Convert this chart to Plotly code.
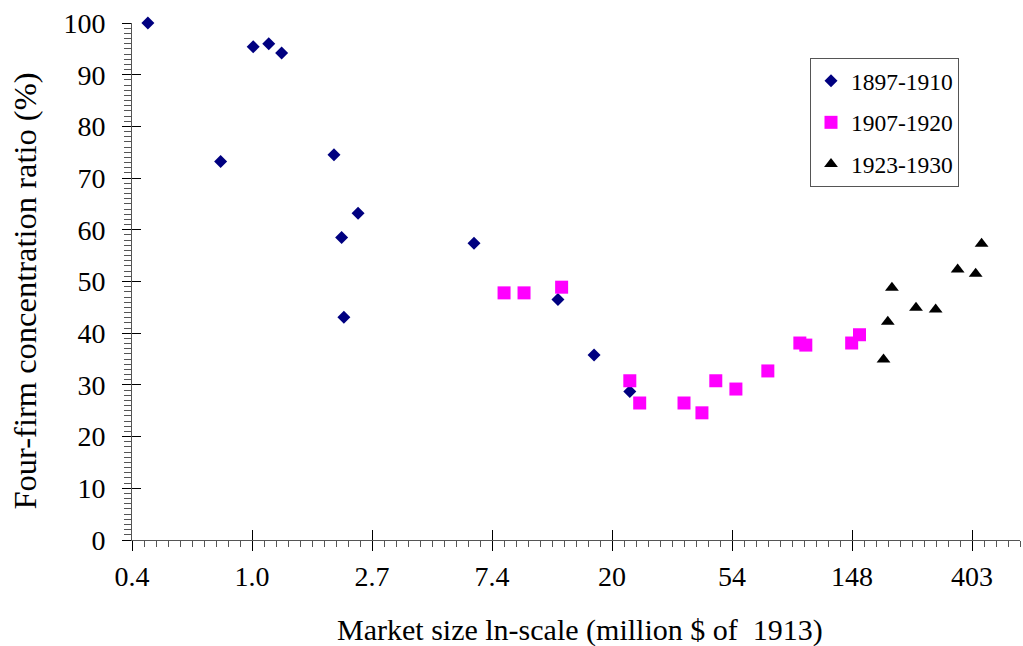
import numpy as np
import plotly.graph_objects as go

# Market size (million $ of 1913) and four-firm concentration ratio (%)
size_1897 = [0.42, 1.01, 1.15, 1.28, 0.77, 1.98, 2.42, 2.11, 2.15, 6.36, 12.8, 17.3, 23.3]
cr4_1897 = [100.0, 95.4, 96.0, 94.2, 73.2, 74.5, 63.2, 58.5, 43.1, 57.4, 46.5, 35.8, 28.7]

size_1907 = [8.17, 9.65, 13.2, 23.3, 25.3, 36.6, 42.5, 47.7, 56.4, 73.6, 96.1, 101.0, 148.0, 158.0]
cr4_1907 = [47.8, 47.8, 48.9, 30.8, 26.5, 26.5, 24.6, 30.8, 29.2, 32.7, 38.1, 37.7, 38.1, 39.7]

size_1923 = [193.0, 200.0, 207.0, 253.0, 298.0, 358.0, 416.0, 437.0]
cr4_1923 = [34.9, 42.2, 48.8, 44.9, 44.6, 52.3, 51.5, 57.3]

series_names = ["1897-1910", "1907-1920", "1923-1930"]

x_ln_ticks = [-1, 0, 1, 2, 3, 4, 5, 6]
x_tick_labels = ["0.4", "1.0", "2.7", "7.4", "20", "54", "148", "403"]
y_ticks = list(range(0, 101, 10))

x_title = "Market size ln-scale (million $ of  1913)"
y_title = "Four-firm concentration ratio (%)"

FONT = "Liberation Serif"
W, H = 1023, 646
ML, MR, MT, MB = 132, 3, 23, 106
PW, PH = W - ML - MR, H - MT - MB

fig = go.Figure()
fig.add_trace(go.Scatter(x=size_1897, y=cr4_1897, mode="markers", name=series_names[0],
                         marker=dict(symbol="diamond", size=10, color="#000080"),
                         cliponaxis=False, legendgroup="a"))
fig.add_trace(go.Scatter(x=size_1907, y=cr4_1907, mode="markers", name=series_names[1],
                         marker=dict(symbol="square", size=13, color="#FF00FF"),
                         cliponaxis=False, legendgroup="b"))
fig.add_trace(go.Scatter(x=size_1923, y=cr4_1923, mode="markers", name=series_names[2],
                         marker=dict(symbol="triangle-up", size=12, color="#000000"),
                         cliponaxis=False, legendgroup="c"))
# empty helper trace so the overlay axes (inner halves of the crossing ticks) exist
fig.add_trace(go.Scatter(x=[], y=[], xaxis="x2", yaxis="y2", showlegend=False, hoverinfo="skip"))

major_x = [float(np.exp(k)) for k in x_ln_ticks]
minor_x = [float(np.exp(k / 10)) for k in range(-10, 65) if k % 10 != 0]
xr = [-1 / np.log(10), 6.4 / np.log(10)]

axis_line = "#555555"
xcommon = dict(type="log", range=xr, tickmode="array", tickvals=major_x, automargin=False,
               showgrid=False, zeroline=False, showline=True, linecolor=axis_line, linewidth=1)
ycommon = dict(range=[0, 100], tickmode="array", tickvals=y_ticks, automargin=False,
               showgrid=False, zeroline=False, showline=True, linecolor=axis_line, linewidth=1)

fig.update_layout(
    width=W, height=H,
    margin=dict(l=ML, r=MR, t=MT, b=MB, autoexpand=False),
    paper_bgcolor="white", plot_bgcolor="white",
    font=dict(family=FONT, size=28, color="black"),
    xaxis=dict(**xcommon, ticktext=x_tick_labels, ticks="outside", ticklen=10,
               tickcolor="black", tickwidth=1, ticklabelstandoff=1,
               minor=dict(tickvals=minor_x, ticks="outside", ticklen=6,
                          tickcolor=axis_line, tickwidth=1, showgrid=False)),
    yaxis=dict(**ycommon, ticks="outside", ticklen=9, tickcolor="black", tickwidth=1,
               ticklabelstandoff=11,
               minor=dict(dtick=1, ticks="outside", ticklen=7, tickcolor=axis_line,
                          tickwidth=1, showgrid=False)),
    xaxis2=dict(**xcommon, overlaying="x", anchor="y2", matches="x",
                ticks="inside", ticklen=10, tickcolor="black", showticklabels=False),
    yaxis2=dict(**ycommon, overlaying="y", anchor="x2", matches="y", side="left",
                ticks="inside", ticklen=9, tickcolor="black", showticklabels=False),
    legend=dict(x=(810 - ML) / PW, y=1 - (58 - MT) / PH, xanchor="left", yanchor="top",
                bgcolor="white", bordercolor="#555555", borderwidth=1,
                font=dict(size=23.5), traceorder="grouped", tracegroupgap=8,
                itemwidth=30),
    showlegend=True,
    annotations=[
        dict(text=x_title, xref="paper", yref="paper",
             x=(579.5 - ML) / PW, y=1 - (630 - MT) / PH,
             xanchor="center", yanchor="middle", showarrow=False,
             font=dict(size=30)),
        dict(text=y_title, xref="paper", yref="paper", textangle=-90,
             x=(24 - ML) / PW, y=1 - (291.5 - MT) / PH,
             xanchor="center", yanchor="middle", showarrow=False,
             font=dict(size=32.5)),
    ],
)

fig.write_html("out.html", config={"displayModeBar": False},
               post_script="document.body.style.margin='0px';")
